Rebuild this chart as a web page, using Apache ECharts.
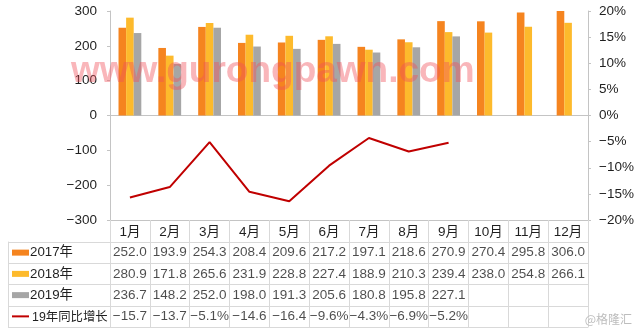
<!DOCTYPE html>
<html>
<head>
<meta charset="utf-8">
<script src="https://cdn.jsdelivr.net/npm/echarts@6/dist/echarts.min.js"></script>
<style>
  html, body { margin: 0; padding: 0; background: #fff; }
  #chart { width: 640px; height: 333px; }
</style>
</head>
<body>
<div id="chart"></div>
<script>
const months = ['1月', '2月', '3月', '4月', '5月', '6月', '7月', '8月', '9月', '10月', '11月', '12月'];
const rowNames = ['2017年', '2018年', '2019年', '19年同比增长'];
const sales2017 = [252.0, 193.9, 254.3, 208.4, 209.6, 217.2, 197.1, 218.6, 270.9, 270.4, 295.8, 306.0];
const sales2018 = [280.9, 171.8, 265.6, 231.9, 228.8, 227.4, 188.9, 210.3, 239.4, 238.0, 254.8, 266.1];
const sales2019 = [236.7, 148.2, 252.0, 198.0, 191.3, 205.6, 180.8, 195.8, 227.1];
const growth2019 = [-15.7, -13.7, -5.1, -14.6, -16.4, -9.6, -4.3, -6.9, -5.2];

const colors = ['#F5841F', '#FDBA2C', '#A6A6A6', '#C00000'];
const FONT = "'Liberation Sans', Arial, 'Noto Sans CJK SC', sans-serif";
const FS = 13.5;
const TEXT = '#1f1f1f';
const AXIS_GRAY = '#C4C4C4';
const TABLE_GRAY = '#D9D9D9';
const MINUS = '\u2212';

const signed = (v, digits) => (v < 0 ? MINUS : '') + (digits == null ? String(Math.abs(v)) : Math.abs(v).toFixed(digits));
// table cells only hold five characters; longer texts get clipped
const CELL_CHARS = 5;
const clip = s => (s.length > CELL_CHARS ? s.slice(0, CELL_CHARS) : s);

// table cell texts placed on the table grid
const tableCells = [];
[sales2017, sales2018, sales2019].forEach((arr, r) => {
  arr.forEach((v, i) => tableCells.push([months[i], rowNames[r], v]));
});
growth2019.forEach((v, i) => tableCells.push([months[i], rowNames[3], v]));

const barSeries = [sales2017, sales2018, sales2019].map((arr, k) => ({
  name: rowNames[k],
  type: 'bar',
  xAxisIndex: 0,
  yAxisIndex: 0,
  data: arr,
  barWidth: 7.6,
  barGap: '0%',
  itemStyle: { color: colors[k] },
  silent: true
}));

const chart = echarts.init(document.getElementById('chart'), null, { renderer: 'canvas' });
chart.setOption({
  animation: false,
  backgroundColor: '#fff',
  textStyle: { fontFamily: FONT },
  grid: [
    { left: 110, right: 52, top: 11, height: 209 },
    { left: 110, right: 52, top: 242, height: 85 }
  ],
  xAxis: [
    {
      // header row of the data table
      type: 'category', gridIndex: 0, data: months, position: 'bottom',
      axisLine: { onZero: false, lineStyle: { color: AXIS_GRAY, width: 1 } },
      axisTick: { show: true, length: 22, lineStyle: { color: TABLE_GRAY } },
      axisLabel: { margin: 6, fontSize: FS, color: TEXT, fontFamily: FONT, interval: 0 }
    },
    {
      // zero line
      type: 'category', gridIndex: 0, data: months, position: 'top',
      axisLine: { onZero: true, onZeroAxisIndex: 0, lineStyle: { color: AXIS_GRAY, width: 1 } },
      axisTick: { show: false }, axisLabel: { show: false }
    },
    {
      type: 'category', gridIndex: 1, data: months,
      axisLine: { show: true, lineStyle: { color: TABLE_GRAY } },
      axisTick: { show: false }, axisLabel: { show: false },
      splitLine: { show: true, lineStyle: { color: TABLE_GRAY } }
    }
  ],
  yAxis: [
    {
      type: 'value', gridIndex: 0, min: -300, max: 300, interval: 100, position: 'left',
      axisLine: { show: true, lineStyle: { color: AXIS_GRAY } },
      axisTick: { show: true, length: 3, lineStyle: { color: AXIS_GRAY } },
      splitLine: { show: false },
      axisLabel: { margin: 13, fontSize: FS, color: TEXT, fontFamily: FONT, formatter: v => signed(v) }
    },
    {
      type: 'value', gridIndex: 0, min: -20, max: 20, interval: 5, position: 'right',
      axisLine: { show: true, lineStyle: { color: AXIS_GRAY } },
      axisTick: { show: true, length: 3, lineStyle: { color: AXIS_GRAY } },
      splitLine: { show: false },
      axisLabel: { margin: 11, fontSize: FS, color: TEXT, fontFamily: FONT, formatter: v => signed(v) + '%' }
    },
    {
      // row headers with legend keys
      type: 'category', gridIndex: 1, data: rowNames, inverse: true, position: 'left',
      axisLine: { show: true, lineStyle: { color: TABLE_GRAY } },
      axisTick: { show: true, length: 102, lineStyle: { color: TABLE_GRAY } },
      splitLine: { show: true, lineStyle: { color: TABLE_GRAY } },
      axisLabel: {
        margin: 98, align: 'left', fontSize: FS, color: TEXT, fontFamily: FONT,
        formatter: (v, i) => (i < 3 ? '{k' + i + '|}{t|' + v + '}' : '{ln|}{sp|}{s|' + v + '}'),
        rich: {
          k0: { width: 17, height: 6, backgroundColor: colors[0] },
          k1: { width: 17, height: 6, backgroundColor: colors[1] },
          k2: { width: 17, height: 6, backgroundColor: colors[2] },
          ln: { width: 17, height: 2, backgroundColor: colors[3] },
          sp: { width: 3 },
          t: { fontSize: 13.3, color: TEXT, fontFamily: FONT, padding: [0, 0, 0, 1] },
          s: { fontSize: 12.4, color: TEXT, fontFamily: FONT, padding: [2, 0, 0, 0] }
        }
      }
    },
    {
      // outer left border of the table
      type: 'category', gridIndex: 1, data: rowNames, inverse: true, position: 'left', offset: 102,
      axisLine: { show: true, lineStyle: { color: TABLE_GRAY } },
      axisTick: { show: false }, axisLabel: { show: false }, splitLine: { show: false }
    }
  ],
  series: [
    ...barSeries,
    {
      name: rowNames[3],
      type: 'line',
      xAxisIndex: 0,
      yAxisIndex: 1,
      data: growth2019,
      symbol: 'none',
      lineStyle: { color: colors[3], width: 2 },
      itemStyle: { color: colors[3] },
      silent: true
    },
    {
      type: 'scatter',
      xAxisIndex: 2,
      yAxisIndex: 2,
      data: tableCells,
      symbolSize: 0,
      silent: true,
      label: {
        show: true, position: 'inside', fontSize: FS, color: TEXT, fontFamily: FONT,
        formatter: p => (p.value[1] === rowNames[3] ? clip(signed(p.value[2], 1) + '%') : p.value[2].toFixed(1))
      }
    }
  ],
  graphic: [
    {
      type: 'text', left: 71, top: 53, z: 100, silent: true,
      style: {
        text: 'www.gurongpawn.com',
        font: "bold 37px 'Liberation Sans', Arial, sans-serif",
        fill: 'rgba(240, 80, 90, 0.42)'
      }
    },
    {
      type: 'text', right: 8, top: 313, z: 100, silent: true,
      style: {
        text: '@格隆汇',
        font: "12px 'Noto Sans CJK SC', sans-serif",
        fill: '#BDBDBD'
      }
    }
  ]
});
</script>
</body>
</html>
